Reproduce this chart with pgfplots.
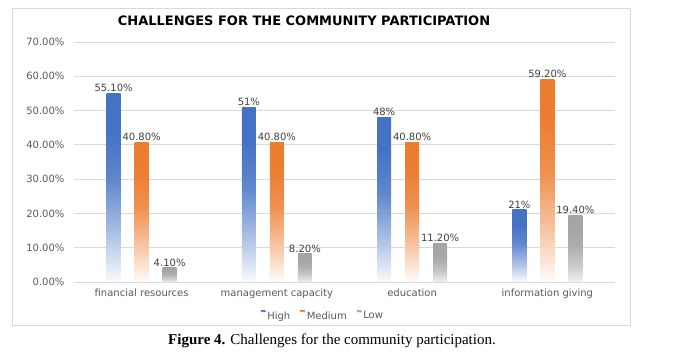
\documentclass[border=0pt]{standalone}
\usepackage{pgfplots}
\pgfplotsset{compat=1.18}
\usepackage{fontspec}
\setmainfont{DejaVu Sans}
\newfontfamily\capfont{Liberation Serif}
\definecolor{cHigh}{HTML}{4472C4}
\definecolor{cMed}{HTML}{ED7D31}
\definecolor{cLow}{HTML}{A5A5A5}
\definecolor{txt}{HTML}{595959}
\definecolor{grd}{HTML}{D9D9D9}
\pgfdeclareverticalshading{fHigh}{100bp}{color(0bp)=(cHigh!3!white); color(25bp)=(cHigh!3!white); color(38bp)=(cHigh!45!white); color(52bp)=(cHigh!85!white); color(65bp)=(cHigh); color(100bp)=(cHigh)}
\pgfdeclareverticalshading{fMed}{100bp}{color(0bp)=(cMed!3!white); color(25bp)=(cMed!3!white); color(38bp)=(cMed!45!white); color(52bp)=(cMed!85!white); color(65bp)=(cMed); color(100bp)=(cMed)}
\pgfdeclareverticalshading{fLow}{100bp}{color(0bp)=(cLow!15!white); color(25bp)=(cLow!15!white); color(38bp)=(cLow!60!white); color(52bp)=(cLow!90!white); color(65bp)=(cLow); color(100bp)=(cLow)}
\pgfplotsset{
  barH/.style={ybar, bar width=14pt, bar shift=-28pt, draw=none, shading=fHigh,
    every node near coord/.append style={xshift=-28pt}},
  barM/.style={ybar, bar width=14pt, bar shift=0pt, draw=none, shading=fMed},
  barL/.style={ybar, bar width=14pt, bar shift=28pt, draw=none, shading=fLow,
    every node near coord/.append style={xshift=28pt}},
}
\begin{document}
\begin{tikzpicture}[x=1pt,y=1pt]
\useasboundingbox (0,0) rectangle (675,352);
\draw[grd, line width=0.8pt] (12,27) rectangle (630,344);
\node[font=\bfseries\fontsize{13}{15}\selectfont] at (304,331) {CHALLENGES FOR THE COMMUNITY PARTICIPATION};
\node[font=\capfont\fontsize{15}{17}\selectfont] at (332,11) {\textbf{Figure 4.} Challenges for the community participation.};
\begin{axis}[
  at={(74pt,70pt)}, anchor=south west,
  scale only axis, width=541pt, height=240pt,
  xmin=-0.5, xmax=3.5, ymin=0, ymax=70,
  xtick={0,1,2,3},
  xticklabels={financial resources, management capacity, education, information giving},
  ytick={0,10,...,70},
  yticklabel={\pgfmathprintnumber[fixed,fixed zerofill,precision=2]{\tick}\%},
  /pgf/number format/assume math mode=true,
  major tick length=0pt,
  axis line style={draw=none},
  ymajorgrids, grid style={grd, line width=0.8pt},
  tick label style={font=\fontsize{10}{12}\selectfont, text=txt},
  yticklabel style={xshift=-6pt},
  xticklabel style={yshift=-3pt},
  nodes near coords,
  point meta=explicit symbolic,
  nodes near coords style={font=\fontsize{10}{12}\selectfont, text=black!75, inner sep=1.5pt, anchor=south},
  legend style={at={(0.46,-0.142)}, anchor=center, draw=none, legend columns=-1,
    font=\fontsize{10}{12}\selectfont, text=txt,
    /tikz/every even column/.append style={column sep=8pt}},
]
% first bar of each series carries the legend entry
\addplot[barH, legend image code/.code={\fill[cHigh] (0pt,4pt) rectangle (4.5pt,6pt);}]
  coordinates {(0,55.1) [55.10\%]};
\addplot[barM, legend image code/.code={\fill[cMed] (0pt,4pt) rectangle (4.5pt,6pt);}]
  coordinates {(0,40.8) [40.80\%]};
\addplot[barL, legend image code/.code={\fill[cLow] (0pt,4pt) rectangle (4.5pt,6pt);}]
  coordinates {(0,4.1) [4.10\%]};
% High
\addplot[barH, forget plot] coordinates {(1,51) [51\%]};
\addplot[barH, forget plot] coordinates {(2,48) [48\%]};
\addplot[barH, forget plot] coordinates {(3,21) [21\%]};
% Medium
\addplot[barM, forget plot] coordinates {(1,40.8) [40.80\%]};
\addplot[barM, forget plot] coordinates {(2,40.8) [40.80\%]};
\addplot[barM, forget plot] coordinates {(3,59.2) [59.20\%]};
% Low
\addplot[barL, forget plot] coordinates {(1,8.2) [8.20\%]};
\addplot[barL, forget plot] coordinates {(2,11.2) [11.20\%]};
\addplot[barL, forget plot] coordinates {(3,19.4) [19.40\%]};
\legend{High, Medium, Low}
\end{axis}
\end{tikzpicture}
\end{document}
